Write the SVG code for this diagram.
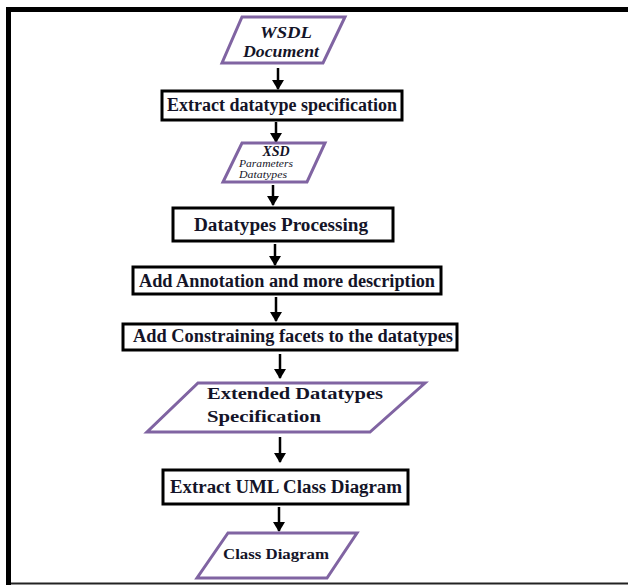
<svg xmlns="http://www.w3.org/2000/svg" width="628" height="585" viewBox="0 0 628 585">
<defs>
<style>
.box{fill:#fff;stroke:#000;stroke-width:3}
.io{fill:#fff;stroke:#8064a2;stroke-width:3;stroke-linejoin:miter}
.t{font-family:"Liberation Serif","Times New Roman",serif;font-weight:bold;fill:#141428}
.bi{font-family:"Liberation Serif","Times New Roman",serif;font-weight:bold;font-style:italic;fill:#141428}
.i{font-family:"Liberation Serif","Times New Roman",serif;font-style:italic;fill:#141428}
.c{stroke:#000;stroke-width:2.5;fill:none}
</style>
<marker id="ah" markerWidth="10" markerHeight="12" refX="9" refY="6" orient="auto" markerUnits="userSpaceOnUse">
<path d="M0,0 L10,6 L0,12 Z" fill="#000"/>
</marker>
</defs>
<rect width="628" height="585" fill="#fff"/>
<g id="frame">
<line x1="8.5" y1="7" x2="8.5" y2="585" stroke="#000" stroke-width="5"/>
<line x1="6" y1="9.5" x2="628" y2="9.5" stroke="#000" stroke-width="5"/>
<line x1="11" y1="583.5" x2="628" y2="583.5" stroke="#222" stroke-width="2"/>
</g>
<g id="connectors">
<line class="c" x1="278" y1="68" x2="278" y2="89" marker-end="url(#ah)"/>
<line class="c" x1="276" y1="122" x2="276" y2="142" marker-end="url(#ah)"/>
<line class="c" x1="273" y1="185" x2="273" y2="205" marker-end="url(#ah)"/>
<line class="c" x1="275" y1="244" x2="275" y2="265" marker-end="url(#ah)"/>
<line class="c" x1="276" y1="297" x2="276" y2="321" marker-end="url(#ah)"/>
<line class="c" x1="280" y1="354" x2="280" y2="378" marker-end="url(#ah)"/>
<line class="c" x1="280" y1="437" x2="280" y2="462" marker-end="url(#ah)"/>
<line class="c" x1="279" y1="507" x2="279" y2="531" marker-end="url(#ah)"/>
</g>
<g id="wsdl">
<polygon class="io" points="242,17 345,17 323,63 222,63"/>
<text class="bi" x="286" y="38" font-size="17" text-anchor="middle" textLength="52" lengthAdjust="spacingAndGlyphs">WSDL</text>
<text class="bi" x="281" y="57" font-size="16" text-anchor="middle" textLength="76" lengthAdjust="spacingAndGlyphs">Document</text>
</g>
<g id="extract-datatype">
<rect class="box" x="162" y="91" width="240" height="29"/>
<text class="t" x="282" y="111" font-size="18" text-anchor="middle" textLength="230" lengthAdjust="spacingAndGlyphs">Extract datatype specification</text>
</g>
<g id="xsd">
<polygon class="io" points="242,143 325,143 307,182 223,182"/>
<text class="bi" x="276" y="156" font-size="14" text-anchor="middle">XSD</text>
<text class="i" x="239" y="167" font-size="9.5" textLength="54" lengthAdjust="spacingAndGlyphs">Parameters</text>
<text class="i" x="239" y="178" font-size="9.5" textLength="48" lengthAdjust="spacingAndGlyphs">Datatypes</text>
</g>
<g id="datatypes-processing">
<rect class="box" x="173" y="208" width="220" height="33"/>
<text class="t" x="281" y="231" font-size="18" text-anchor="middle" textLength="174" lengthAdjust="spacingAndGlyphs">Datatypes Processing</text>
</g>
<g id="add-annotation">
<rect class="box" x="133" y="267" width="308" height="27"/>
<text class="t" x="287" y="287" font-size="18" text-anchor="middle" textLength="296" lengthAdjust="spacingAndGlyphs">Add Annotation and more description</text>
</g>
<g id="add-constraining">
<rect class="box" x="123" y="324" width="334" height="26"/>
<text class="t" x="293" y="342" font-size="18" text-anchor="middle" textLength="320" lengthAdjust="spacingAndGlyphs">Add Constraining facets to the datatypes</text>
</g>
<g id="extended-datatypes">
<polygon class="io" points="198,383 425,383 370,432 147,432"/>
<text class="t" x="207" y="399" font-size="17" textLength="176" lengthAdjust="spacingAndGlyphs">Extended Datatypes</text>
<text class="t" x="207" y="422" font-size="17" textLength="114" lengthAdjust="spacingAndGlyphs">Specification</text>
</g>
<g id="extract-uml">
<rect class="box" x="163" y="470" width="245" height="34"/>
<text class="t" x="286" y="493" font-size="18" text-anchor="middle" textLength="232" lengthAdjust="spacingAndGlyphs">Extract UML Class Diagram</text>
</g>
<g id="class-diagram">
<polygon class="io" points="228,533 357,533 327,578 197,578"/>
<text class="t" x="276" y="559" font-size="14" text-anchor="middle" textLength="106" lengthAdjust="spacingAndGlyphs">Class Diagram</text>
</g>
</svg>
